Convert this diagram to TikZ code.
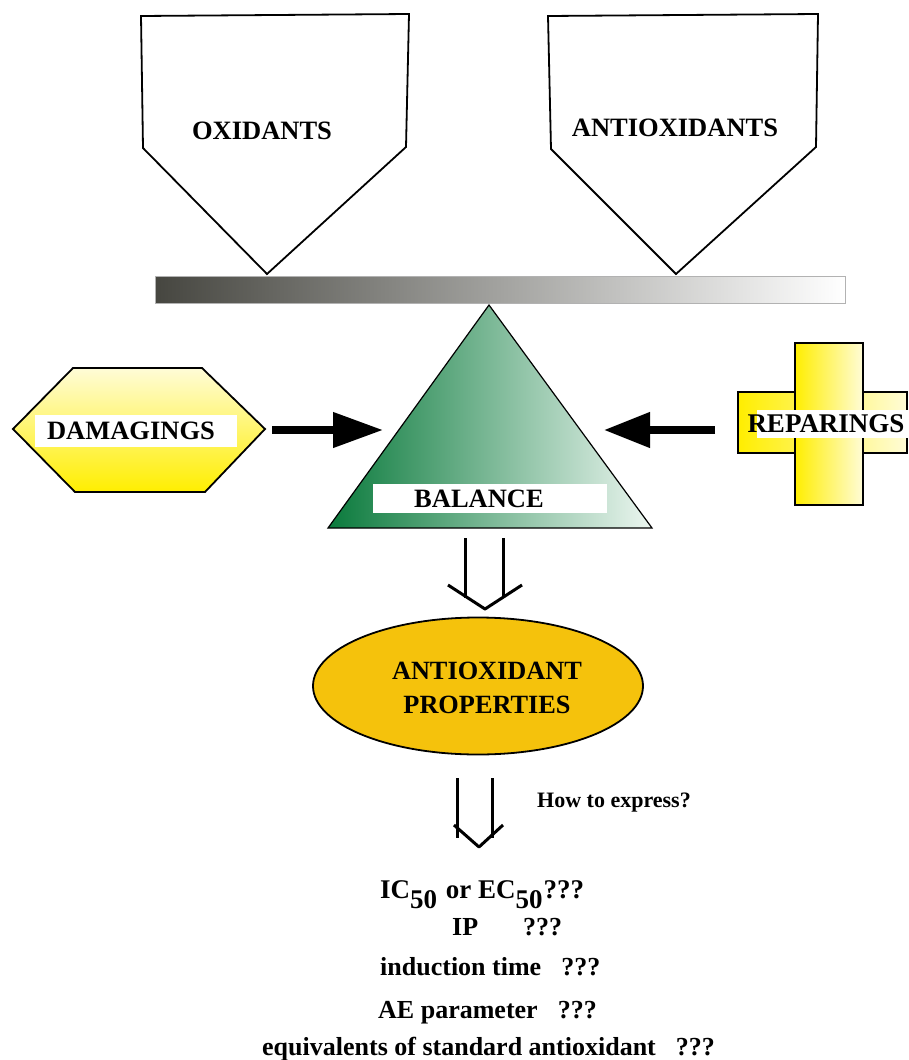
\documentclass[tikz,border=0pt]{standalone}
\usepackage{fontspec}
\setmainfont{Liberation Serif}
\usetikzlibrary{arrows.meta,shapes.geometric}
\definecolor{bardark}{RGB}{70,70,64}
\definecolor{barmid}{RGB}{140,140,130}
\definecolor{grdark}{RGB}{10,122,60}
\definecolor{grmid}{RGB}{50,160,100}
\definecolor{grlight}{RGB}{236,246,240}
\definecolor{ylw}{RGB}{255,238,0}
\definecolor{ylwpale}{RGB}{255,252,215}
\definecolor{gold}{RGB}{245,194,12}
\begin{document}
\begin{tikzpicture}[x=1pt,y=-1pt,
  lbl/.style={font=\fontsize{26.5}{30}\selectfont\bfseries, inner sep=0pt},
  txt/.style={font=\fontsize{26}{30}\selectfont\bfseries, inner sep=0pt, anchor=base west},
  shapeline/.style={draw=black, line width=1.8pt, line join=miter},
  fatarrow/.style={line width=7.5pt},
  openarrow/.style={line width=3pt, line join=round}]
\useasboundingbox (0,0) rectangle (909,1060);

% pans
\draw[shapeline, fill=white] (141,16) -- (409,14) -- (406,147) -- (267,274) -- (143,148) -- cycle;
\draw[shapeline, fill=white] (548,16) -- (818,14) -- (816,147) -- (676,274) -- (551,149) -- cycle;
\node[lbl] (ox) at (262,131) {OXIDANTS};
\node[lbl] (antiox) at (675,128) {ANTIOXIDANTS};

% beam
\shadedraw[left color=bardark, middle color=barmid, right color=white, draw=gray!60, line width=0.8pt] (155,276) rectangle (845,303);

% fulcrum
\shadedraw[left color=grdark, middle color=grmid, right color=grlight, draw=black, line width=1.2pt] (489,305) -- (652,528) -- (328,528) -- cycle;
\fill[white] (373,484) rectangle (607,513);
\node[lbl] (bal) at (479,499) {BALANCE};

% damagings
\shadedraw[top color=ylwpale, bottom color=ylw, shapeline] (13,429) -- (73,368) -- (202,368) -- (265,429) -- (205,492) -- (75,492) -- cycle;
\fill[white] (35,415) rectangle (237,447);
\node[lbl] (dam) at (131,431) {DAMAGINGS};

% reparings
\shadedraw[left color=ylw, right color=ylwpale, shapeline] (738,392) rectangle (907,453);
\shadedraw[left color=ylw, right color=ylwpale, shapeline] (795,343) rectangle (863,505);
\fill[white] (757,410) rectangle (909,438);
\node[lbl, font=\fontsize{27}{30}\selectfont\bfseries] (rep) at (826,424) {REPARINGS};

% side arrows
\coordinate (damR) at (272,430);
\coordinate (triL) at (383,430);
\coordinate (repL) at (715,430);
\coordinate (triR) at (604,430);
\draw[fatarrow, -{Triangle[length=50pt,width=34pt]}] (damR) -- (triL);
\draw[fatarrow, -{Triangle[length=46pt,width=34pt]}] (repL) -- (triR);

% open arrow to properties
\coordinate (a1l) at (465,538);
\coordinate (a1r) at (503,538);
\coordinate (a1tip) at (485,609);
\draw[openarrow] (a1l) -- (465,598);
\draw[openarrow] (a1r) -- (503,598);
\draw[openarrow] (448,585) -- (a1tip) -- (522,585);

% properties
\node[ellipse, draw=black, line width=1.8pt, fill=gold, minimum width=330pt, minimum height=137pt, inner sep=0pt] (props) at (478,686) {};
\node[lbl, align=center, font=\fontsize{26.3}{34}\selectfont\bfseries] at (487,688) {ANTIOXIDANT\\PROPERTIES};

% second open arrow
\coordinate (a2l) at (457,778);
\coordinate (a2r) at (492,778);
\coordinate (a2tip) at (479,847);
\draw[openarrow] (a2l) -- (457,838);
\draw[openarrow] (a2r) -- (492,838);
\draw[openarrow] (454,825) -- (a2tip) -- (503,825);
\node[txt, font=\fontsize{22}{26}\selectfont\bfseries] (how) at (537,807) {How to express?};

% list
\node[txt, font=\fontsize{27}{30}\selectfont\bfseries] (l1) at (380,898) {IC\raisebox{-10pt}{50}\hspace{2pt} or EC\raisebox{-10pt}{50}\hspace{1pt}???};
\node[txt] (l2) at (452,935) {IP\hspace{45pt}???};
\node[txt] (l3) at (380,975) {induction time\hspace{20pt}???};
\node[txt] (l4) at (378,1018) {AE parameter\hspace{20pt}???};
\node[txt] (l5) at (262,1055) {equivalents of standard antioxidant\hspace{20pt}???};
\end{tikzpicture}
\end{document}
